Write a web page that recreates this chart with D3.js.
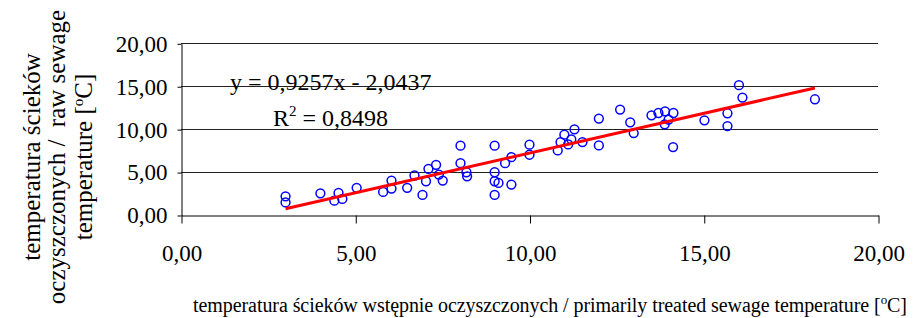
<!DOCTYPE html>
<html>
<head>
<meta charset="utf-8">
<script src="https://cdn.jsdelivr.net/npm/d3@7"></script>
<style>
  body { margin: 0; background: #fff; }
</style>
</head>
<body>
<div id="chart"></div>
<script>
// primarily treated sewage temperature [°C]
const xVals = [3.0, 3.0, 4.0, 4.52, 4.4, 4.63, 5.04, 5.8, 6.04, 6.04, 6.49, 6.7, 6.93, 7.03, 7.1,
  7.32, 7.4, 7.51, 8.02, 8.02, 8.19, 8.21, 9.0, 9.0, 9.0, 9.11, 9.0, 9.3, 9.48, 9.48,
  10.0, 10.0, 10.81, 10.89, 11.0, 11.11, 11.2, 11.29, 11.52, 11.99, 11.99, 12.6, 12.89, 12.99,
  13.5, 13.7, 13.89, 14.13, 13.99, 13.88, 14.12, 15.02, 15.68, 15.68, 16.01, 16.11, 18.19];
// raw sewage temperature [°C]
const yVals = [2.18, 1.47, 2.53, 2.57, 1.67, 1.87, 3.16, 2.69, 4.01, 3.08, 3.16, 4.6, 2.34, 3.93, 5.38,
  5.85, 4.71, 4.01, 8.07, 6.04, 4.98, 4.51, 8.07, 4.98, 3.93, 3.74, 2.34, 6.04, 6.74, 3.54,
  8.19, 7.02, 7.52, 8.49, 9.36, 8.22, 8.81, 9.98, 8.49, 11.23, 8.1, 12.28, 10.8, 9.54,
  11.61, 11.88, 12.08, 11.88, 11.11, 10.56, 7.91, 11.03, 11.85, 10.36, 15.12, 13.68, 13.48];

const slope = 0.9257;
const intercept = -2.0437;
const r2Text = "0,8498";
const ticks = [0, 5, 10, 15, 20];
const fmt = v => v.toFixed(2).replace('.', ',');

const width = 913, height = 318;
const plotLeft = 181, plotRight = 878, plotTop = 43.3, plotBottom = 215;
const serif = 'Liberation Serif';

const x = d3.scaleLinear().domain([0, 20]).range([plotLeft, plotRight]);
const y = d3.scaleLinear().domain([0, 20]).range([plotBottom, plotTop]);

const svg = d3.select('#chart').append('svg')
    .attr('width', width)
    .attr('height', height)
    .attr('font-family', serif);

// horizontal gridlines
svg.append('g')
    .selectAll('line')
    .data(ticks.filter(t => t > 0))
    .join('line')
    .attr('x1', plotLeft).attr('x2', plotRight)
    .attr('y1', d => Math.round(y(d)) + 0.5)
    .attr('y2', d => Math.round(y(d)) + 0.5)
    .attr('stroke', '#222')
    .attr('stroke-width', 1);

// y axis
const yAxis = svg.append('g')
    .attr('transform', `translate(${Math.round(plotLeft) + 0.5},0.5)`)
    .call(d3.axisLeft(y).tickValues(ticks).tickFormat(fmt).tickSizeInner(4).tickSizeOuter(0).tickPadding(10))
    .attr('font-family', serif)
    .attr('font-size', 23);
yAxis.select('.domain').attr('stroke', '#000');
yAxis.selectAll('.tick line').attr('stroke', '#000');

// x axis
const xAxis = svg.append('g')
    .attr('transform', `translate(0.5,${Math.round(plotBottom) + 0.5})`)
    .call(d3.axisBottom(x).tickValues(ticks).tickFormat(fmt).tickSizeInner(8).tickSizeOuter(0).tickPadding(21))
    .attr('font-family', serif)
    .attr('font-size', 23);
xAxis.select('.domain').attr('stroke', '#000');
xAxis.selectAll('.tick line').attr('stroke', '#000');

// points
const pts = d3.zip(xVals, yVals);
svg.append('g')
    .selectAll('circle')
    .data(pts)
    .join('circle')
    .attr('cx', d => x(d[0]))
    .attr('cy', d => y(d[1]))
    .attr('r', 4.4)
    .attr('fill', 'none')
    .attr('stroke', '#0000ff')
    .attr('stroke-width', 1.5);

// trend line
const x0 = d3.min(xVals), x1 = d3.max(xVals);
svg.append('line')
    .attr('x1', x(x0)).attr('y1', y(slope * x0 + intercept))
    .attr('x2', x(x1)).attr('y2', y(slope * x1 + intercept))
    .attr('stroke', '#ff0000')
    .attr('stroke-width', 3);

// equation
svg.append('text')
    .attr('x', 230).attr('y', 90)
    .attr('font-size', 24)
    .text(`y = ${slope.toFixed(4).replace('.', ',')}x - ${Math.abs(intercept).toFixed(4).replace('.', ',')}`);

const r2 = svg.append('text')
    .attr('x', 273).attr('y', 126)
    .attr('font-size', 24);
r2.append('tspan').text('R');
r2.append('tspan').attr('dy', -10).attr('font-size', 15).text('2');
r2.append('tspan').attr('dy', 10).text(' = ' + r2Text);

// x axis title
const xt = svg.append('text')
    .attr('x', 193).attr('y', 312)
    .attr('textLength', 714)
    .attr('lengthAdjust', 'spacing')
    .attr('font-size', 20);
xt.append('tspan').text('temperatura ścieków wstępnie oczyszczonych / primarily treated sewage temperature [');
xt.append('tspan').attr('dy', -8).attr('font-size', 13).text('o');
xt.append('tspan').attr('dy', 8).text('C]');

// y axis title
const yt = svg.append('text')
    .attr('transform', 'translate(0,157) rotate(-90)')
    .attr('text-anchor', 'middle')
    .attr('font-size', 25);
yt.append('tspan').attr('x', 0).attr('y', 40).text('temperatura ścieków');
yt.append('tspan').attr('x', 0).attr('y', 65).text('oczyszczonych /\u00a0 raw sewage');
yt.append('tspan').attr('x', 0).attr('y', 92).text('temperature [');
yt.append('tspan').attr('dy', -9).attr('font-size', 15).text('o');
yt.append('tspan').attr('dy', 9).text('C]');
</script>
</body>
</html>
